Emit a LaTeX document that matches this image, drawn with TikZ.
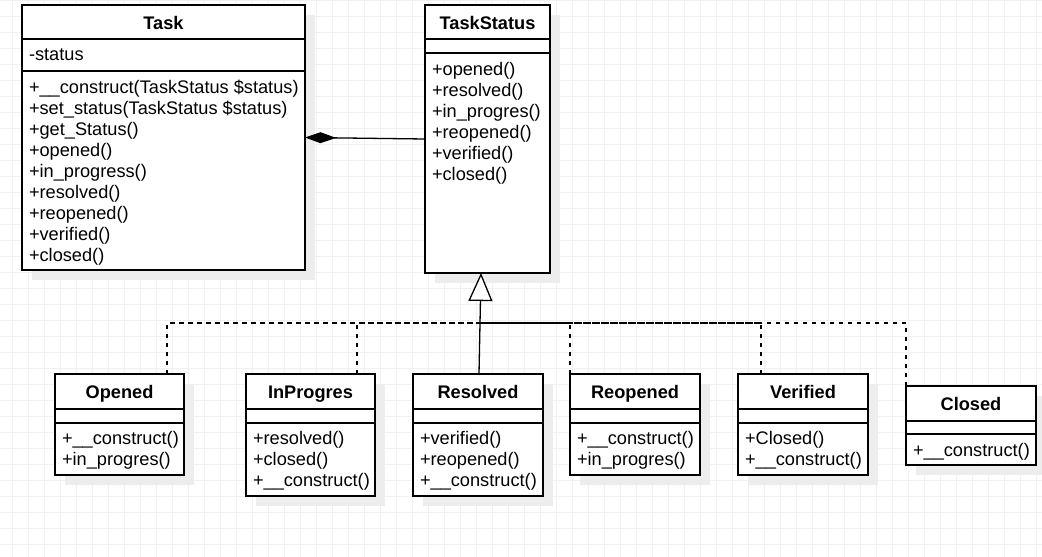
\documentclass[tikz,border=0pt]{standalone}
\usepackage{fontspec}
\setmainfont{Liberation Sans}
\usetikzlibrary{arrows.meta,shadows}

\begin{document}
\begin{tikzpicture}
  [x=1pt,y=-1pt,every node/.style={font=\fontsize{18.2}{21}\selectfont,inner sep=0pt,outer sep=0pt},
   cls/.style 2 args={draw,line width=1.3pt,fill=white,anchor=north west,minimum width=#1,minimum height=#2,
     drop shadow={shadow xshift=9.5pt,shadow yshift=-9.5pt,fill=black!7,opacity=1}},
   sep/.style={line width=1.3pt},
   head/.style={anchor=base,font=\fontsize{18.2}{21}\selectfont\bfseries},
   mth/.style={anchor=base west},
   gridline/.style={black!6,line width=1pt},
   comp/.style={line width=1.3pt,-{Diamond[length=31pt,width=11pt]}},
   gen/.style={line width=1.3pt,-{Triangle[open,fill=white,length=28pt,width=24pt]}},
   realize/.style={line width=1.3pt,dash pattern=on 4.5pt off 4.5pt}]
  \useasboundingbox (0,0) rectangle (1042,557);
  \fill[white] (0,0) rectangle (1042,557);
  \foreach \gx in {12,28,...,1036}
    \draw[gridline] (\gx,0) -- (\gx,557);
  \foreach \gy in {0,16,...,544}
    \draw[gridline] (0,\gy) -- (1042,\gy);

  \node[cls={283}{265}] (task) at (22,5) {};
  \node[cls={125}{268}] (status) at (425,5) {};
  \node[cls={129}{101}] (opened) at (55,374) {};
  \node[cls={129}{122}] (inprogres) at (246,374) {};
  \node[cls={130}{122}] (resolved) at (413,374) {};
  \node[cls={130}{101}] (reopened) at (570,374) {};
  \node[cls={130}{101}] (verified) at (738,374) {};
  \node[cls={130}{79}] (closed) at (906,386) {};

  \foreach \c/\a/\b in {task/34/66,status/34/48,opened/35/49,inprogres/35/49,resolved/35/49,reopened/35/49,verified/35/49,closed/35/48}
    \draw[sep] ([yshift=-\a]\c.north west) -- ([yshift=-\a]\c.north east)
               ([yshift=-\b]\c.north west) -- ([yshift=-\b]\c.north east);

  \foreach \c/\t in {task/Task,status/TaskStatus,opened/Opened,inprogres/InProgres,resolved/Resolved,reopened/Reopened,verified/Verified,closed/Closed}
    \node[head] (\c head) at ([yshift=-24]\c.north) {\t};

  \node[mth] (taskattr) at ([xshift=7,yshift=-55]task.north west) {-status};
  \foreach \m [count=\i from 0] in {+\_\_construct(TaskStatus \$status),+set\_status(TaskStatus \$status),+get\_Status(),+opened(),+in\_progress(),+resolved(),+reopened(),+verified(),+closed()}
    \node[mth] (task\i) at ([xshift=7,yshift={-88.5-21*\i}]task.north west) {\m};
  \foreach \c/\l in {status/{+opened(),+resolved(),+in\_progres(),+reopened(),+verified(),+closed()},
      opened/{+\_\_construct(),+in\_progres()},
      inprogres/{+resolved(),+closed(),+\_\_construct()},
      resolved/{+verified(),+reopened(),+\_\_construct()},
      reopened/{+\_\_construct(),+in\_progres()},
      verified/{+Closed(),+\_\_construct()},
      closed/{+\_\_construct()}}
    \foreach \m [count=\i from 0] in \l
      \node[mth] (\c\i) at ([xshift=7,yshift={-70-21*\i}]\c.north west) {\m};

  \draw[comp] ([yshift=-134]status.north west) -- ([yshift=-132.5]task.north east);

  \coordinate (bus) at (481,323);
  \foreach \c/\d in {opened/112,inprogres/111,reopened/0,verified/23,closed/0}
    \draw[realize] ([xshift=\d]\c.north west) |- (bus);
  \draw[gen] ([xshift=1]resolved.north) -- ([xshift=-6.5]status.south);
\end{tikzpicture}
\end{document}
